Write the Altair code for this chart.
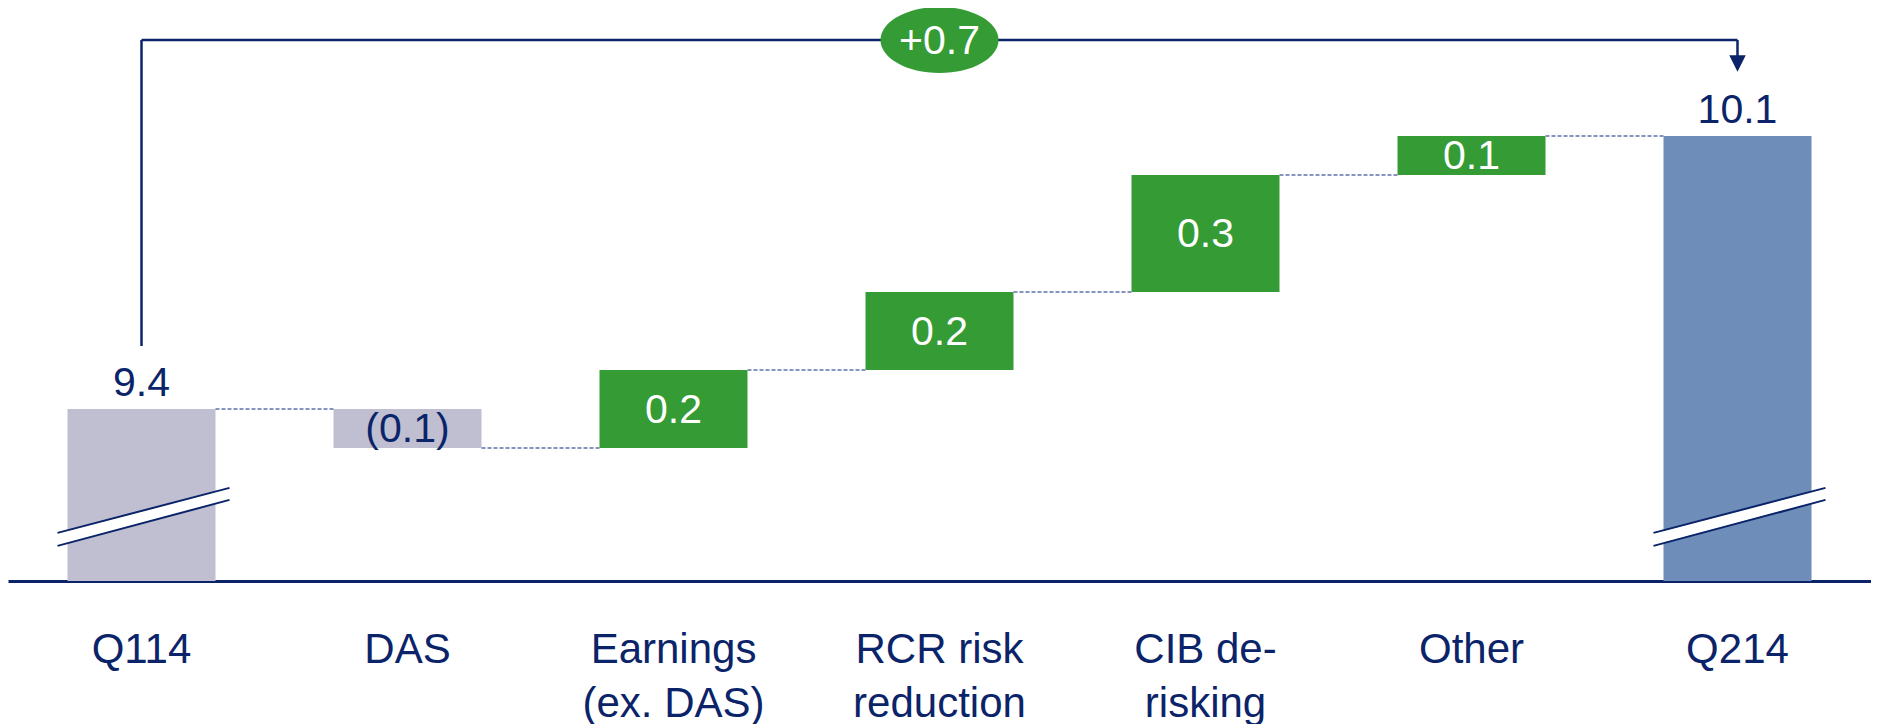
import altair as alt
import pandas as pd

# ---------------- data ----------------
categories = ["Q114", "DAS", "Earnings\n(ex. DAS)", "RCR risk\nreduction",
              "CIB de-\nrisking", "Other", "Q214"]
start_value = 9.4
deltas = [-0.1, 0.2, 0.2, 0.3, 0.1]
end_value = 10.1
value_labels = ["9.4", "(0.1)", "0.2", "0.2", "0.3", "0.1", "10.1"]
total_change_label = "+0.7"

# ---------------- style ----------------
NAVY = "#0b2469"
GRAY = "#bfbfd1"
GREEN = "#359b34"
BLUE = "#6f8db9"
CONNECT = "#8394bd"
FONT = "Liberation Sans"
FS = 41
AXIS_FS = 42

Y_LO, Y_HI = 8.959, 10.428      # broken value axis
BRACKET_LEVEL = 10.346
BREAK_LEVEL = 9.124

# ---------------- tables ----------------
rows = [dict(cat=categories[0], y0=Y_LO, y1=start_value, color=GRAY,
             label=value_labels[0], pos="above", tcolor=NAVY)]
levels = [start_value]
level = start_value
for i, d in enumerate(deltas):
    new = round(level + d, 4)
    rows.append(dict(cat=categories[i + 1], y0=level, y1=new,
                     color=GREEN if d > 0 else GRAY,
                     label=value_labels[i + 1], pos="inside",
                     tcolor="white" if d > 0 else NAVY))
    level = new
    levels.append(level)
rows.append(dict(cat=categories[-1], y0=Y_LO, y1=end_value, color=BLUE,
                 label=value_labels[-1], pos="above", tcolor=NAVY))
bars = pd.DataFrame(rows)
bars["mid"] = (bars["y0"] + bars["y1"]) / 2

conn = pd.DataFrame({
    "frm": categories[:-1],
    "to": categories[1:],
    "lvl": levels,
})

breaks = pd.DataFrame({"cat": [categories[0], categories[-1]],
                       "brk": [BREAK_LEVEL, BREAK_LEVEL]})

bracket = pd.DataFrame({"frm": [categories[0]], "to": [categories[-1]],
                        "mid": [categories[3]],
                        "lvl": [BRACKET_LEVEL], "start": [start_value],
                        "end": [end_value], "label": [total_change_label]})

# ---------------- scales ----------------
x_scale = alt.Scale(domain=categories, paddingInner=0.4436, paddingOuter=0.2237)
y_scale = alt.Scale(domain=[Y_LO, Y_HI], zero=False, nice=False)
x_axis = alt.Axis(title=None, labelAngle=0, labelFontSize=AXIS_FS, labelFont=FONT,
                  labelColor=NAVY, labelPadding=48, ticks=False, domain=True,
                  domainColor=NAVY, domainWidth=3, labelLimit=0,
                  labelLineHeight=54, labelBaseline="top", grid=False,
                  labelExpr="split(datum.label, '\\n')")


def X(field):
    return alt.X(f"{field}:N", scale=x_scale, axis=x_axis, sort=categories)


def Y(field):
    return alt.Y(f"{field}:Q", scale=y_scale, axis=None)


bar_layer = alt.Chart(bars).mark_bar(size=148).encode(
    x=X("cat"), y=Y("y0"), y2="y1", color=alt.Color("color:N", scale=None))

connectors = alt.Chart(conn).mark_rule(
    color=CONNECT, strokeWidth=2, strokeDash=[4, 2], xOffset=74, x2Offset=-74
).encode(x=X("frm"), x2="to", y=Y("lvl"))

label_above = alt.Chart(bars).transform_filter("datum.pos == 'above'").mark_text(
    baseline="alphabetic", dy=-13, fontSize=FS, font=FONT
).encode(x=X("cat"), y=Y("y1"), text="label:N",
         color=alt.Color("tcolor:N", scale=None))

label_inside = alt.Chart(bars).transform_filter("datum.pos == 'inside'").mark_text(
    baseline="middle", dy=2, fontSize=FS, font=FONT
).encode(x=X("cat"), y=Y("mid"), text="label:N",
         color=alt.Color("tcolor:N", scale=None))

brk_white = alt.Chart(breaks).mark_rule(
    color="white", strokeWidth=11, xOffset=-84, x2Offset=88,
    yOffset=22.75, y2Offset=-22.75
).encode(x=X("cat"), x2="cat", y=Y("brk"), y2="brk")
brk_up = alt.Chart(breaks).mark_rule(
    color=NAVY, strokeWidth=2, xOffset=-84, x2Offset=88,
    yOffset=16.25, y2Offset=-28.75
).encode(x=X("cat"), x2="cat", y=Y("brk"), y2="brk")
brk_lo = alt.Chart(breaks).mark_rule(
    color=NAVY, strokeWidth=2, xOffset=-84, x2Offset=88,
    yOffset=29.25, y2Offset=-16.75
).encode(x=X("cat"), x2="cat", y=Y("brk"), y2="brk")

br_h = alt.Chart(bracket).mark_rule(color=NAVY, strokeWidth=2.5).encode(
    x=X("frm"), x2="to", y=Y("lvl"))
br_l = alt.Chart(bracket).mark_rule(color=NAVY, strokeWidth=2.5, y2Offset=-63).encode(
    x=X("frm"), y=Y("lvl"), y2="start")
br_r = alt.Chart(bracket).mark_rule(color=NAVY, strokeWidth=2.5, y2Offset=-74).encode(
    x=X("to"), y=Y("lvl"), y2="end")
arrow = alt.Chart(bracket).mark_point(
    shape="M-1,-1L1,-1L0,1Z", size=272, filled=True, opacity=1, color=NAVY,
    yOffset=-72.5
).encode(x=X("to"), y=Y("end"))
ellipse = alt.Chart(bracket).mark_point(
    shape="M-1,0A1,0.56 0 1,1 1,0A1,0.56 0 1,1 -1,0Z", size=13924,
    filled=True, opacity=1, color=GREEN, strokeWidth=0
).encode(x=X("mid"), y=Y("lvl"))
ell_text = alt.Chart(bracket).mark_text(
    baseline="middle", dy=2, fontSize=FS, font=FONT, color="white"
).encode(x=X("mid"), y=Y("lvl"), text="label:N")

chart = alt.layer(
    bar_layer, connectors, brk_white, brk_up, brk_lo, label_above, label_inside,
    br_h, br_l, br_r, arrow, ellipse, ell_text
).properties(
    width=1863, height=573,
    autosize=alt.AutoSizeParams(type="none"),
    padding={"left": 0, "right": 0, "top": 0, "bottom": 143},
    background="white",
).configure_view(strokeWidth=0, stroke="transparent")

chart.save("out.html", embed_options={"renderer": "svg", "actions": False})
